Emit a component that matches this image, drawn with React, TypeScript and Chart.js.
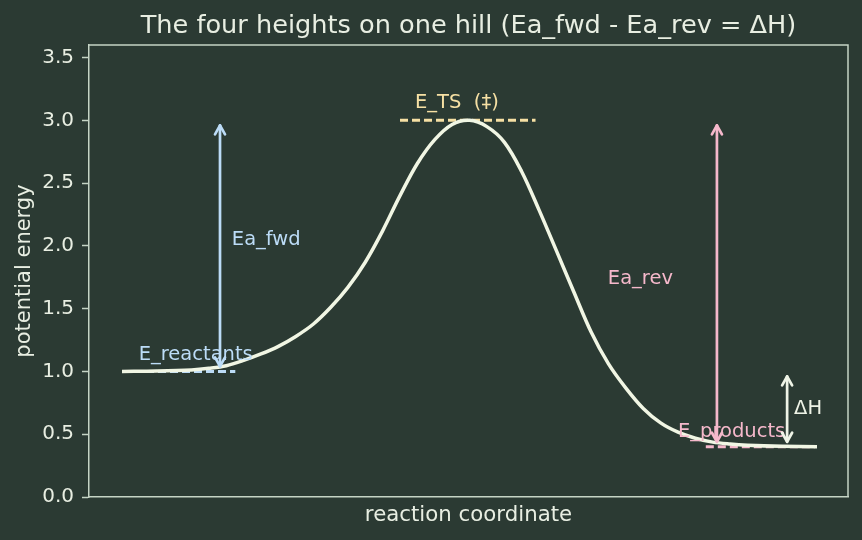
import React, { useEffect, useRef } from 'react';
import { Chart, registerables } from 'chart.js';

Chart.register(...registerables);

// ---- data ----
const curveX = [0, 0.05, 0.1, 0.125, 0.15, 0.175, 0.2, 0.225, 0.25, 0.275, 0.3, 0.325, 0.35, 0.375, 0.4, 0.425, 0.45, 0.475, 0.5, 0.525, 0.55, 0.575, 0.6, 0.625, 0.65, 0.675, 0.7, 0.725, 0.75, 0.775, 0.8, 0.825, 0.85, 0.875, 0.9, 0.95, 1.0];
const curveY = [1.0, 1.003, 1.012, 1.025, 1.046, 1.088, 1.139, 1.2, 1.279, 1.376, 1.509, 1.67, 1.87, 2.12, 2.4, 2.656, 2.846, 2.967, 3.0, 2.95, 2.827, 2.593, 2.287, 1.962, 1.635, 1.314, 1.06, 0.867, 0.705, 0.59, 0.516, 0.468, 0.437, 0.422, 0.413, 0.404, 0.4];

const levelNames = ['E_reactants', 'E_TS  (‡)', 'E_products'];
const levelValues = [1.0, 3.0, 0.4];
const levelXStart = [0.0, 0.40, 0.84];
const levelXEnd = [0.163, 0.595, 0.997];
const levelLabelX = [0.024, 0.4216, 0.8];
const levelLabelY = [1.13, 3.14, 0.52];

const arrowNames = ['Ea_fwd', 'Ea_rev', 'ΔH'];
const arrowX = [0.141, 0.856, 0.957];
const arrowFrom = [1.0, 3.0, 1.0];
const arrowTo = [3.0, 0.4, 0.4];
const arrowLabelX = [0.158, 0.699, 0.967];
const arrowLabelY = [2.05, 1.74, 0.70];

const yTickValues = [0, 0.5, 1.0, 1.5, 2.0, 2.5, 3.0, 3.5];

const titleText = 'The four heights on one hill (Ea_fwd - Ea_rev = ΔH)';
const xTitle = 'reaction coordinate';
const yTitle = 'potential energy';

// ---- styles ----
const BG = '#2b3a33';
const FG = '#e8eee2';
const SPINE = '#c5d4c5';
const CURVE = '#f1f6e4';
const levelColors = ['#bcdcf7', '#f6e0a4', '#f5b8cb'];
const arrowColors = ['#bcdcf7', '#f5b8cb', '#eef3e6'];
const FONT = "'DejaVu Sans', sans-serif";

const overlayPlugin = {
  id: 'overlay',
  beforeDatasetsDraw(chart: any) {
    const { ctx, chartArea } = chart;
    ctx.save();
    ctx.strokeStyle = SPINE;
    ctx.lineWidth = 1.5;
    ctx.beginPath();
    ctx.moveTo(chartArea.left, chartArea.top);
    ctx.lineTo(chartArea.right, chartArea.top);
    ctx.lineTo(chartArea.right, chartArea.bottom);
    ctx.stroke();
    ctx.restore();
  },
  afterDatasetsDraw(chart: any) {
    const { ctx } = chart;
    const xs = chart.scales.x;
    const ys = chart.scales.y;
    ctx.save();
    ctx.font = `19.5px ${FONT}`;
    ctx.textBaseline = 'middle';
    ctx.textAlign = 'left';
    levelNames.forEach((t, i) => {
      ctx.fillStyle = levelColors[i];
      ctx.fillText(t, xs.getPixelForValue(levelLabelX[i]), ys.getPixelForValue(levelLabelY[i]));
    });
    arrowNames.forEach((t, i) => {
      ctx.fillStyle = arrowColors[i];
      ctx.fillText(t, xs.getPixelForValue(arrowLabelX[i]), ys.getPixelForValue(arrowLabelY[i]));
    });
    // arrows
    const shrink = 5;
    const hl = 9;
    const hw = 5;
    arrowNames.forEach((_, i) => {
      const px = xs.getPixelForValue(arrowX[i]);
      let y1 = ys.getPixelForValue(arrowFrom[i]);
      let y2 = ys.getPixelForValue(arrowTo[i]);
      const dir = y2 > y1 ? 1 : -1;
      y1 += dir * shrink;
      y2 -= dir * shrink;
      ctx.strokeStyle = arrowColors[i];
      ctx.lineWidth = 2.7;
      ctx.lineCap = 'round';
      ctx.lineJoin = 'round';
      ctx.beginPath();
      ctx.moveTo(px, y1);
      ctx.lineTo(px, y2);
      ctx.stroke();
      ctx.beginPath();
      ctx.moveTo(px - hw, y2 - dir * hl);
      ctx.lineTo(px, y2);
      ctx.lineTo(px + hw, y2 - dir * hl);
      ctx.stroke();
      ctx.beginPath();
      ctx.moveTo(px - hw, y1 + dir * hl);
      ctx.lineTo(px, y1);
      ctx.lineTo(px + hw, y1 + dir * hl);
      ctx.stroke();
    });
    ctx.restore();
  },
  afterDraw(chart: any) {
    const { ctx, chartArea } = chart;
    ctx.save();
    ctx.font = `25.6px ${FONT}`;
    ctx.fillStyle = FG;
    ctx.textAlign = 'center';
    ctx.textBaseline = 'middle';
    ctx.fillText(titleText, (chartArea.left + chartArea.right) / 2, 26);
    ctx.restore();
  },
};

export default function App() {
  const ref = useRef<HTMLCanvasElement>(null);
  useEffect(() => {
    if (!ref.current) return;
    const curveData = curveX.map((x, i) => ({ x, y: curveY[i] }));
    const levelSets = levelNames.map((n, i) => ({
      label: n,
      data: [
        { x: levelXStart[i], y: levelValues[i] },
        { x: levelXEnd[i], y: levelValues[i] },
      ],
      borderColor: levelColors[i],
      borderWidth: 3,
      borderDash: [8, 4],
      pointRadius: 0,
      fill: false,
    }));
    const chart = new Chart(ref.current, {
      type: 'line',
      data: {
        datasets: [
          {
            label: 'curve',
            data: curveData,
            borderColor: CURVE,
            borderWidth: 3.5,
            pointRadius: 0,
            tension: 0.35,
            fill: false,
          },
          ...levelSets,
        ],
      } as any,
      options: {
        animation: false,
        responsive: true,
        maintainAspectRatio: false,
        layout: { padding: { left: 0, right: 14, top: 45, bottom: 0 } },
        plugins: {
          legend: { display: false },
          title: { display: false },
          tooltip: { enabled: false },
        },
        scales: {
          x: {
            type: 'linear',
            min: -0.0475,
            max: 1.0446,
            ticks: { display: false },
            grid: { display: false, drawTicks: false },
            border: { display: true, color: SPINE, width: 1.5 },
            title: {
              display: true,
              text: xTitle,
              color: FG,
              font: { family: FONT, size: 21.3 },
              padding: { top: 0, bottom: 12 },
            },
            afterFit: (s: any) => {
              s.height = 43;
            },
          },
          y: {
            type: 'linear',
            min: 0,
            max: 3.6,
            afterBuildTicks: (s: any) => {
              s.ticks = yTickValues.map((v) => ({ value: v }));
            },
            ticks: {
              color: FG,
              font: { family: FONT, size: 20 },
              padding: 8,
              callback: (v: any) => Number(v).toFixed(1),
            },
            grid: {
              display: true,
              drawOnChartArea: false,
              drawTicks: true,
              tickLength: 7,
              tickColor: SPINE,
              tickWidth: 1.5,
              color: SPINE,
            },
            border: { display: true, color: SPINE, width: 1.5 },
            title: {
              display: true,
              text: yTitle,
              color: FG,
              font: { family: FONT, size: 21 },
              padding: { top: 12, bottom: 0 },
            },
            afterFit: (s: any) => {
              s.width = 89;
            },
          },
        },
      } as any,
      plugins: [overlayPlugin],
    });
    return () => chart.destroy();
  }, []);
  return (
    <div style={{ position: 'fixed', left: 0, top: 0, width: 862, height: 540, background: BG }}>
      <canvas ref={ref} />
    </div>
  );
}
